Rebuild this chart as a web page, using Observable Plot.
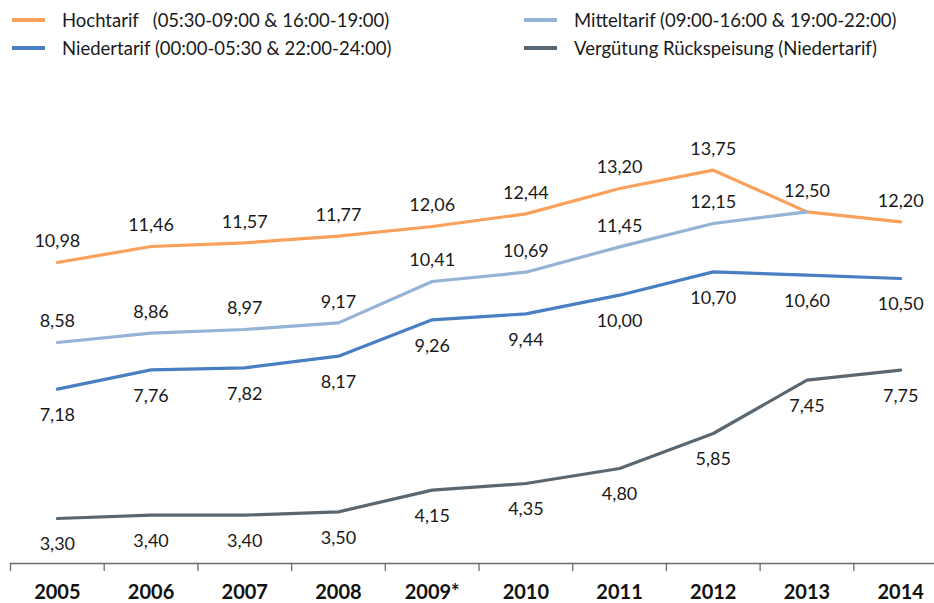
<!DOCTYPE html>
<html>
<head>
<meta charset="utf-8">
<script src="https://cdn.jsdelivr.net/npm/d3@7"></script>
<script src="https://cdn.jsdelivr.net/npm/@observablehq/plot@0.6"></script>
<style>
  html, body { margin: 0; padding: 0; background: #fff; }
  #wrap { position: relative; width: 934px; height: 603px; font-family: Lato, sans-serif; }
  #legend { position: absolute; left: 0; top: 0; width: 934px; height: 70px; }
  .item { position: absolute; display: flex; align-items: center; font-size: 18.5px; color: #1a1a1a; white-space: pre; }
  .sw { width: 33px; height: 4px; margin-right: 17px; }
  #chart { position: absolute; left: 0; top: 0; }
</style>
</head>
<body>
<div id="wrap">
  <div id="chart"></div>
  <div id="legend"></div>
</div>
<script>
const years = ["2005", "2006", "2007", "2008", "2009*", "2010", "2011", "2012", "2013", "2014"];
const hochtarif = [10.98, 11.46, 11.57, 11.77, 12.06, 12.44, 13.20, 13.75, 12.50, 12.20];
const mitteltarif = [8.58, 8.86, 8.97, 9.17, 10.41, 10.69, 11.45, 12.15, 12.50, null];
const niedertarif = [7.18, 7.76, 7.82, 8.17, 9.26, 9.44, 10.00, 10.70, 10.60, 10.50];
const rueckspeisung = [3.30, 3.40, 3.40, 3.50, 4.15, 4.35, 4.80, 5.85, 7.45, 7.75];

const seriesNames = [
  "Hochtarif   (05:30-09:00 & 16:00-19:00)",
  "Mitteltarif (09:00-16:00 & 19:00-22:00)",
  "Niedertarif (00:00-05:30 & 22:00-24:00)",
  "Vergütung Rückspeisung (Niedertarif)"
];
const colors = ["#F9A05A", "#95B3D7", "#4A7EC2", "#5B6770"];
const labelSide = ["above", "above", "below", "below"];
const allValues = [hochtarif, mitteltarif, niedertarif, rueckspeisung];

const rows = [];
allValues.forEach((vals, s) => {
  vals.forEach((v, i) => {
    if (v != null) rows.push({series: s, i, value: v});
  });
});
// skip a label that duplicates an earlier series' label at the same point
const labelRows = rows.filter(r => !rows.some(o => o.series < r.series && o.i === r.i && o.value === r.value));

const fmt = v => v.toFixed(2).replace(".", ",");
const boundaries = d3.range(-0.5, 9.5, 1);
const centers = d3.range(0, 10);

const plot = Plot.plot({
  width: 934,
  height: 603,
  marginLeft: 10,
  marginRight: 0,
  marginTop: 94.7,
  marginBottom: 40,
  style: {fontFamily: "Lato, sans-serif", background: "white"},
  x: {domain: [-0.5, 9.361], axis: null},
  y: {domain: [1.95, 16], axis: null},
  marks: [
    Plot.ruleY([1.95], {stroke: "#6b6b6b", strokeWidth: 1.3}),
    Plot.axisX({ticks: boundaries, tickFormat: () => "", tickSize: 8, stroke: "#6b6b6b", strokeWidth: 1.3, label: null}),
    Plot.axisX({ticks: centers, tickSize: 0, tickPadding: 21, tickFormat: i => years[i],
      fontSize: 20, fontWeight: "bold", fill: "#111", label: null}),
    ...allValues.map((vals, s) => Plot.line(rows.filter(r => r.series === s), {
      x: "i", y: "value", stroke: colors[s], strokeWidth: 3.2, strokeLinecap: "round", strokeLinejoin: "round"
    })),
    Plot.text(labelRows.filter(r => labelSide[r.series] === "above"), {
      x: "i", y: "value", text: d => fmt(d.value), dy: -21, fontSize: 18, fill: "#1a1a1a"
    }),
    Plot.text(labelRows.filter(r => labelSide[r.series] === "below"), {
      x: "i", y: "value", text: d => fmt(d.value), dy: 26, fontSize: 18, fill: "#1a1a1a"
    })
  ]
});
document.getElementById("chart").appendChild(plot);

// legend
const legendPos = [
  {left: 12, top: 20, s: 0},
  {left: 524, top: 20, s: 1},
  {left: 12, top: 48, s: 2},
  {left: 524, top: 48, s: 3}
];
const legend = document.getElementById("legend");
legendPos.forEach(p => {
  const it = document.createElement("div");
  it.className = "item";
  it.style.left = p.left + "px";
  it.style.top = (p.top - 12) + "px";
  it.style.height = "24px";
  const sw = document.createElement("div");
  sw.className = "sw";
  sw.style.background = colors[p.s];
  const tx = document.createElement("span");
  tx.textContent = seriesNames[p.s];
  it.appendChild(sw);
  it.appendChild(tx);
  legend.appendChild(it);
});
</script>
</body>
</html>
